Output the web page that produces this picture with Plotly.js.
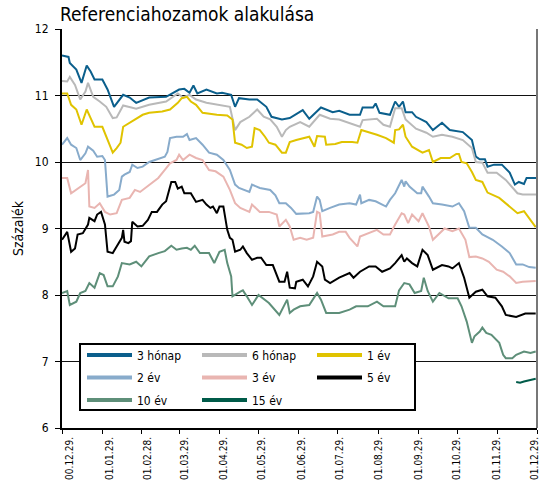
<!DOCTYPE html>
<html>
<head>
<meta charset="utf-8">
<script src="https://cdn.plot.ly/plotly-3.0.1.min.js"></script>
<style>
  html, body { margin: 0; padding: 0; background: #fff; }
  #chart { width: 539px; height: 480px; }
</style>
</head>
<body>
<div id="chart"></div>
<script>
// napok 2000.12.29-től, hozam (%)
const s3m = [[0,11.60],[5,11.58],[6,11.49],[11,11.39],[15,11.19],[19,11.45],[22,11.36],[25,11.24],[31,11.24],[35,11.09],[40,10.83],[47,11.01],[52,10.97],[57,10.89],[67,10.97],[80,10.98],[90,11.09],[94,11.10],[98,11.04],[101,11.15],[104,11.03],[111,11.09],[119,11.03],[123,11.04],[130,11.01],[133,10.83],[136,10.96],[144,10.94],[150,10.94],[157,10.83],[161,10.68],[169,10.64],[175,10.66],[185,10.78],[190,10.65],[199,10.82],[208,10.75],[213,10.77],[221,10.71],[229,10.71],[231,10.82],[239,10.82],[241,10.88],[244,10.74],[252,10.71],[256,10.91],[259,10.83],[262,10.91],[264,10.75],[269,10.75],[272,10.68],[280,10.60],[285,10.48],[292,10.59],[298,10.48],[308,10.45],[315,10.33],[318,10.08],[321,10.04],[325,10.04],[327,9.93],[332,9.96],[338,9.96],[344,9.84],[348,9.66],[351,9.70],[355,9.67],[357,9.76],[365,9.76]];
const s6m = [[0,11.22],[4,11.21],[6,11.28],[10,11.16],[14,10.94],[18,11.06],[20,11.19],[24,10.98],[29,10.91],[34,10.83],[39,10.66],[42,10.67],[47,10.85],[52,10.83],[57,10.80],[67,10.86],[80,10.91],[89,11.03],[93,10.97],[98,11.01],[103,10.94],[111,10.89],[119,10.86],[129,10.83],[133,10.48],[137,10.60],[144,10.68],[150,10.79],[155,10.68],[160,10.64],[165,10.53],[169,10.38],[172,10.48],[175,10.53],[183,10.60],[190,10.53],[198,10.71],[206,10.65],[213,10.64],[221,10.59],[229,10.53],[231,10.63],[242,10.65],[247,10.56],[252,10.53],[256,10.81],[261,10.81],[264,10.64],[272,10.50],[280,10.44],[285,10.38],[292,10.41],[300,10.38],[308,10.33],[315,10.21],[318,10.00],[323,9.99],[327,9.84],[334,9.84],[341,9.73],[346,9.61],[350,9.53],[354,9.51],[365,9.51]];
const s1y = [[0,11.03],[4,11.03],[7,10.86],[11,10.79],[15,10.56],[19,10.79],[22,10.66],[25,10.53],[31,10.53],[34,10.38],[39,10.14],[42,10.21],[45,10.29],[47,10.53],[52,10.59],[57,10.64],[62,10.71],[67,10.74],[77,10.76],[83,10.79],[89,10.89],[92,10.96],[96,10.98],[99,10.91],[103,10.86],[108,10.74],[119,10.71],[127,10.70],[131,10.64],[133,10.29],[138,10.26],[142,10.21],[146,10.23],[148,10.51],[152,10.48],[156,10.38],[159,10.29],[164,10.26],[169,10.14],[172,10.14],[175,10.30],[180,10.33],[185,10.36],[190,10.38],[194,10.23],[196,10.39],[202,10.38],[203,10.26],[210,10.27],[215,10.30],[223,10.30],[227,10.29],[230,10.48],[236,10.45],[242,10.41],[249,10.36],[255,10.29],[256,10.48],[259,10.49],[262,10.56],[264,10.38],[269,10.23],[277,10.14],[282,10.18],[285,10.00],[291,10.06],[298,10.06],[303,10.12],[305,10.12],[307,10.00],[311,9.98],[315,9.85],[318,9.73],[323,9.70],[327,9.54],[336,9.46],[345,9.31],[350,9.23],[355,9.26],[359,9.15],[364,9.02]];
const s2y = [[0,10.26],[4,10.36],[7,10.26],[11,10.21],[14,10.03],[18,10.13],[20,10.23],[24,10.17],[27,10.08],[31,10.09],[33,10.03],[35,9.48],[40,9.51],[44,9.58],[46,9.78],[48,9.81],[52,9.85],[54,9.96],[58,9.91],[62,9.93],[67,10.00],[76,10.06],[79,10.08],[81,10.15],[83,10.36],[88,10.38],[93,10.38],[96,10.42],[98,10.33],[103,10.36],[108,10.26],[113,10.14],[119,10.11],[124,10.03],[129,9.88],[133,9.66],[136,9.61],[144,9.55],[146,9.66],[152,9.61],[160,9.58],[164,9.50],[167,9.38],[172,9.38],[176,9.31],[180,9.22],[185,9.23],[190,9.23],[193,9.25],[196,9.48],[198,9.43],[200,9.26],[206,9.31],[213,9.36],[221,9.38],[226,9.36],[229,9.51],[230,9.38],[236,9.43],[241,9.41],[249,9.33],[252,9.43],[256,9.53],[261,9.73],[263,9.63],[264,9.71],[267,9.63],[273,9.53],[276,9.53],[277,9.63],[282,9.48],[285,9.38],[292,9.36],[300,9.33],[305,9.38],[309,9.26],[313,9.01],[318,9.01],[323,8.91],[331,8.83],[338,8.73],[344,8.63],[349,8.46],[354,8.46],[359,8.42],[364,8.41]];
const s3y = [[0,9.76],[4,9.76],[7,9.53],[11,9.58],[15,9.63],[18,9.68],[20,9.88],[21,9.33],[25,9.31],[29,9.38],[33,9.25],[37,9.21],[42,9.23],[46,9.43],[52,9.46],[56,9.58],[60,9.55],[67,9.66],[74,9.76],[79,9.88],[83,9.98],[88,10.03],[90,10.11],[93,10.03],[98,10.11],[103,10.06],[108,10.03],[113,9.88],[118,9.86],[124,9.78],[129,9.58],[133,9.38],[137,9.31],[144,9.25],[146,9.36],[152,9.25],[159,9.25],[165,9.21],[167,9.03],[172,9.13],[175,9.03],[178,8.83],[183,8.86],[188,8.83],[193,8.86],[196,9.25],[198,9.23],[200,8.88],[208,8.91],[213,8.95],[218,8.95],[221,8.86],[227,8.73],[229,8.88],[236,8.93],[242,8.98],[247,8.91],[252,8.91],[256,9.06],[261,9.23],[263,9.21],[266,9.08],[269,9.21],[274,9.11],[277,9.23],[282,9.03],[285,8.83],[290,8.93],[294,9.00],[300,8.96],[305,9.00],[310,8.83],[313,8.57],[318,8.58],[323,8.55],[328,8.50],[334,8.38],[339,8.35],[344,8.28],[349,8.18],[354,8.20],[364,8.21]];
const s5y = [[0,8.83],[4,8.95],[7,8.65],[10,8.70],[12,8.91],[16,8.93],[20,9.06],[21,9.16],[25,9.11],[27,9.21],[30,9.25],[33,9.06],[35,8.65],[39,8.63],[42,8.73],[46,8.86],[47,8.98],[48,8.80],[51,8.78],[53,8.81],[54,9.10],[58,9.03],[62,9.04],[66,9.13],[69,9.25],[73,9.25],[77,9.36],[80,9.41],[84,9.70],[87,9.70],[89,9.60],[92,9.63],[94,9.53],[99,9.53],[103,9.40],[108,9.43],[111,9.36],[114,9.31],[116,9.33],[119,9.23],[121,9.33],[124,9.33],[127,8.98],[129,8.86],[131,8.83],[133,8.65],[137,8.68],[139,8.73],[142,8.63],[146,8.53],[150,8.56],[153,8.56],[157,8.45],[162,8.45],[167,8.20],[171,8.20],[173,8.35],[175,8.11],[179,8.10],[180,8.20],[185,8.23],[189,8.13],[193,8.28],[196,8.50],[200,8.43],[202,8.23],[206,8.18],[213,8.26],[221,8.33],[224,8.26],[229,8.35],[236,8.43],[241,8.43],[246,8.35],[252,8.40],[256,8.48],[261,8.60],[263,8.50],[265,8.55],[269,8.48],[273,8.43],[277,8.68],[281,8.60],[285,8.38],[292,8.45],[297,8.43],[300,8.40],[305,8.48],[309,8.26],[313,7.96],[318,8.05],[323,8.08],[327,7.98],[333,7.96],[338,7.83],[341,7.70],[349,7.67],[356,7.72],[364,7.72]];
const s10y = [[0,8.03],[4,8.06],[6,7.85],[11,7.90],[14,8.03],[18,8.06],[21,8.18],[25,8.11],[29,8.33],[32,8.30],[35,8.13],[39,8.13],[43,8.28],[46,8.48],[52,8.46],[57,8.50],[61,8.43],[65,8.53],[67,8.58],[74,8.63],[79,8.66],[84,8.74],[88,8.68],[92,8.70],[96,8.71],[99,8.68],[102,8.74],[106,8.63],[113,8.63],[117,8.48],[121,8.65],[125,8.68],[127,8.48],[130,8.28],[131,7.98],[137,8.05],[139,8.07],[142,7.98],[146,7.85],[151,8.00],[154,7.95],[159,7.88],[167,7.70],[173,7.93],[175,7.73],[178,7.78],[183,7.83],[190,7.85],[196,8.03],[199,7.93],[203,7.73],[213,7.73],[221,7.78],[226,7.83],[235,7.83],[242,7.90],[247,7.83],[256,7.83],[259,8.07],[263,8.18],[267,8.16],[271,8.03],[276,8.06],[278,8.26],[281,8.06],[285,7.90],[290,8.03],[297,7.95],[304,7.95],[307,7.83],[311,7.60],[313,7.45],[315,7.28],[317,7.38],[321,7.45],[323,7.51],[326,7.43],[330,7.40],[336,7.28],[339,7.10],[341,7.05],[346,7.05],[349,7.10],[355,7.15],[360,7.13],[364,7.15]];
const s15y = [[349,6.69],[352,6.68],[355,6.70],[360,6.72],[364,6.74]];

const seriesNames = ["3 hónap", "6 hónap", "1 év", "2 év", "3 év", "5 év", "10 év", "15 év"];
const seriesData = [s3m, s6m, s1y, s2y, s3y, s5y, s10y, s15y];
const seriesColors = ["#0b5f8c", "#b9b9b9", "#e0c300", "#88abcb", "#e9b5b1", "#000000", "#5e8f79", "#005b49"];
const legendOf = ["legend", "legend", "legend", "legend2", "legend2", "legend2", "legend3", "legend3"];

const tickDates = ["2000-12-29", "2001-01-29", "2001-02-28", "2001-03-29", "2001-04-29", "2001-05-29", "2001-06-29",
  "2001-07-29", "2001-08-29", "2001-09-29", "2001-10-29", "2001-11-29", "2001-12-29"];
const tickLabels = ["00.12.29.", "01.01.29.", "01.02.28.", "01.03.29.", "01.04.29.", "01.05.29.", "01.06.29.",
  "01.07.29.", "01.08.29.", "01.09.29.", "01.10.29.", "01.11.29.", "01.12.29."];

const FONT = "'Liberation Sans Narrow', 'DejaVu Sans Condensed', 'Arial Narrow', sans-serif";
const startMs = Date.UTC(2000, 11, 29);

function toDate(day) {
  return new Date(startMs + day * 86400000).toISOString().replace("T", " ").slice(0, 19);
}

const traces = [];
seriesData.forEach((s, i) => {
  traces.push({
    type: "scatter",
    mode: "lines",
    x: s.map((p) => toDate(p[0])),
    y: s.map((p) => p[1]),
    name: seriesNames[i],
    line: { color: seriesColors[i], width: 2 },
    showlegend: false,
    hoverinfo: "skip"
  });
});
// jelmagyarázat (vastagabb vonallal), a feliratozó tengelyen
seriesNames.forEach((name, i) => {
  traces.push({
    type: "scatter",
    mode: "lines",
    x: [null],
    y: [null],
    xaxis: "x2",
    name: name,
    line: { color: seriesColors[i], width: 4 },
    legend: legendOf[i],
    showlegend: true
  });
});

const legendBase = {
  orientation: "h",
  xanchor: "left",
  yanchor: "top",
  bgcolor: "rgba(0,0,0,0)",
  borderwidth: 0,
  itemwidth: 45,
  entrywidth: 55,
  font: { family: FONT, size: 12, color: "#000" },
  itemclick: false,
  itemdoubleclick: false
};

const layout = {
  width: 539,
  height: 480,
  margin: { l: 62, r: 2, t: 29, b: 52 },
  paper_bgcolor: "#fff",
  plot_bgcolor: "#fff",
  font: { family: FONT, size: 12, color: "#000" },
  title: {
    text: "Referenciahozamok alakulása",
    xref: "container",
    x: 60 / 539,
    xanchor: "left",
    yref: "container",
    y: 0.971,
    yanchor: "middle",
    font: { family: FONT, size: 19, color: "#000" }
  },
  xaxis: {
    type: "date",
    range: [tickDates[0], tickDates[tickDates.length - 1]],
    tickmode: "array",
    tickvals: tickDates,
    showticklabels: false,
    ticks: "outside",
    ticklen: 4,
    tickcolor: "#000",
    showline: true,
    linecolor: "#000",
    linewidth: 2,
    showgrid: false,
    zeroline: false,
    fixedrange: true,
    automargin: false
  },
  // csak a dátumfeliratok, kissé összenyomva, mint az eredetin
  xaxis2: {
    type: "date",
    overlaying: "x",
    anchor: "y",
    side: "bottom",
    range: [toDate(-6.3), toDate(367)],
    tickmode: "array",
    tickvals: tickDates,
    ticktext: tickLabels,
    tickangle: -90,
    ticks: "outside",
    ticklen: 4,
    tickcolor: "rgba(0,0,0,0)",
    ticklabeloverflow: "allow",
    showline: false,
    showgrid: false,
    zeroline: false,
    fixedrange: true,
    automargin: false,
    tickfont: { family: FONT, size: 10, color: "#000" }
  },
  yaxis: {
    range: [6, 12],
    dtick: 1,
    ticks: "outside",
    ticklen: 5,
    tickcolor: "#000",
    ticklabelstandoff: 4,
    showline: true,
    linecolor: "#000",
    linewidth: 2,
    showgrid: true,
    gridcolor: "#111",
    gridwidth: 1,
    zeroline: false,
    fixedrange: true,
    automargin: false,
    tickfont: { family: FONT, size: 12, color: "#000" },
    title: { text: "Százalék", font: { family: FONT, size: 14, color: "#000" } }
  },
  shapes: [
    // jobb oldali keret
    { type: "line", xref: "paper", yref: "paper", x0: 1, x1: 1, y0: 0, y1: 1,
      line: { color: "#777", width: 2 } },
    // jelmagyarázat kerete
    { type: "rect", xref: "paper", yref: "paper", layer: "above",
      x0: 18 / 475, x1: 353 / 475, y0: 18 / 399, y1: 84 / 399,
      fillcolor: "#fff", line: { color: "#000", width: 2 } }
  ],
  legend: Object.assign({}, legendBase, { x: 20 / 475, y: 87.5 / 399 }),
  legend2: Object.assign({}, legendBase, { x: 20 / 475, y: 65 / 399 }),
  legend3: Object.assign({}, legendBase, { x: 20 / 475, y: 42.5 / 399 }),
  showlegend: true
};

Plotly.newPlot("chart", traces, layout, { displayModeBar: false, staticPlot: true });
</script>
</body>
</html>
